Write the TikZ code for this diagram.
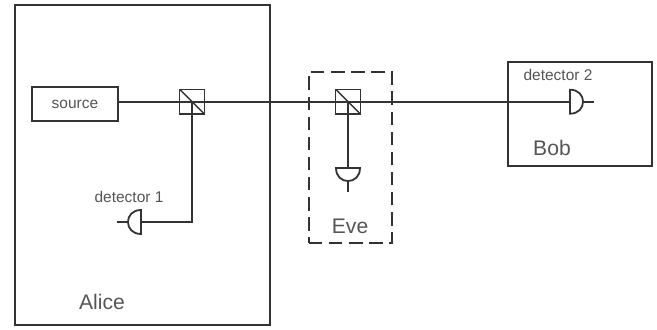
\documentclass[tikz,border=0pt]{standalone}
\usepackage{fontspec}
\setmainfont{Liberation Sans}
\usepackage{xcolor}
\usetikzlibrary{positioning}
\definecolor{linecol}{HTML}{333333}
\definecolor{textcol}{HTML}{555555}

\begin{document}
\begin{tikzpicture}[line width=1.7pt,draw=linecol,
  box/.style={draw=linecol},
  splitter/.style={draw=linecol,line width=1.4pt,minimum size=0.83cm,inner sep=0pt,
    path picture={\draw[linecol,line width=1.4pt] (path picture bounding box.north west)
      -- (path picture bounding box.south east);}},
  small/.style={font=\fontsize{14.7}{16}\selectfont,text=textcol,inner sep=0pt},
  big/.style={font=\fontsize{20}{22}\selectfont,text=textcol,inner sep=0pt},
  detector/.pic={
    \draw[linecol] (0,0.4) .. controls (0.58,0.4) and (0.58,-0.4) .. (0,-0.4) -- cycle;
    \draw[linecol] (0.43,0) -- (0.8,0);
  },
]
\useasboundingbox (0,0) rectangle (21.9,10.97);
% ---------- boxes ----------
\node[box,minimum width=8.5cm,minimum height=10.67cm] (alice) at (4.75,5.47) {};
\node[box,minimum width=4.8cm,minimum height=3.47cm] (bob) at (19.33,7.17) {};
\node[box,dashed,dash pattern=on 0.45cm off 0.22cm,minimum width=2.77cm,minimum height=5.7cm]
  (eve) at (11.68,5.72) {};
% ---------- optics ----------
\node[box,minimum width=2.87cm,minimum height=1.13cm,small] (source) at (2.5,7.5) {source};
\node[splitter] (split1) at (6.4,7.58) {};
\node[splitter] (split2) at (11.6,7.58) {};
\coordinate (det1) at (4.7,3.57);
\coordinate (det2) at (11.6,5.37);
\coordinate (det3) at (19,7.58);
\pic[rotate=180] at (det1) {detector};
\pic[rotate=-90] at (det2) {detector};
\pic at (det3) {detector};
% ---------- connectors ----------
\draw[linecol] (source.east |- split1) -- (split1.center);
\draw[linecol] (split1.center) -- (split2.center);
\draw[linecol] (split2.center) -- (det3);
\draw[linecol] (split1.center) |- (det1);
\draw[linecol] (split2.center) -- (det2);
% ---------- labels ----------
\node[small] (lab1) at (4.3,4.4) {detector 1};
\node[small] (lab2) at (18.6,8.47) {detector 2};
\node[big] (alicelab) at (3.4,0.9) {Alice};
\node[big] (evelab) at (11.67,3.43) {Eve};
\node[big] (boblab) at (18.4,6.03) {Bob};
\end{tikzpicture}
\end{document}
